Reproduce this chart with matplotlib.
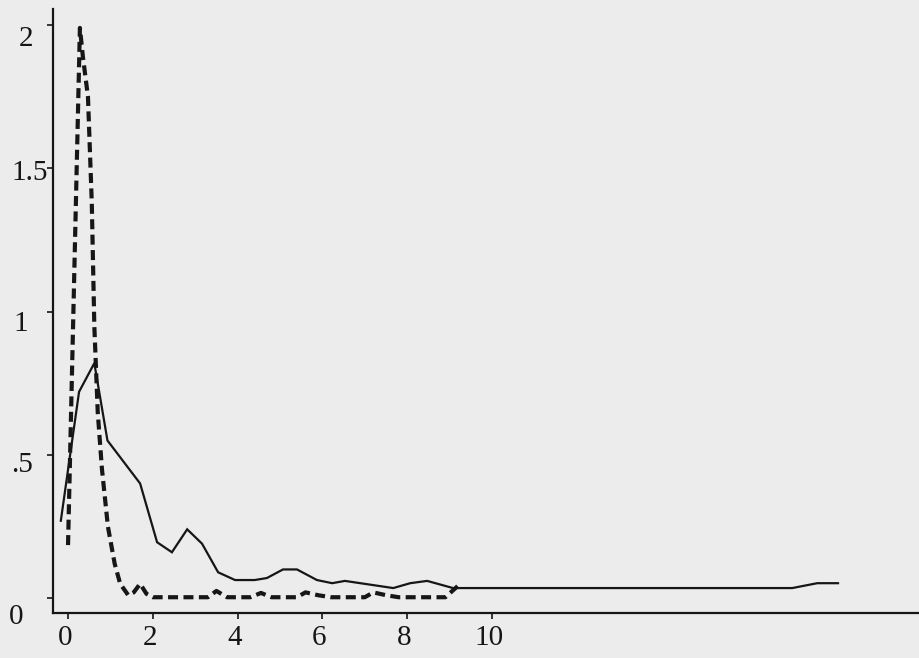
import matplotlib
matplotlib.use("Agg")
import matplotlib.pyplot as plt
from matplotlib.transforms import ScaledTranslation

# Density curves for the two groups
solid_x = [-0.17, 0.26, 0.62, 0.93, 1.70, 2.10, 2.45, 2.81, 3.16, 3.54, 3.94,
           4.40, 4.69, 5.07, 5.40, 5.87, 6.23, 6.53, 7.67, 8.07, 8.47, 9.08,
           17.08, 17.67, 18.16]
solid_y = [0.27, 0.72, 0.82, 0.55, 0.40, 0.195, 0.16, 0.24, 0.19, 0.09, 0.063,
           0.063, 0.07, 0.10, 0.10, 0.063, 0.052, 0.06, 0.035, 0.052, 0.06, 0.035,
           0.035, 0.052, 0.052]

dashed_x = [0.0, 0.28, 0.35, 0.47, 0.56, 0.62, 0.70, 0.80, 0.94, 1.10, 1.23,
            1.42, 1.55, 1.70, 1.85, 2.0, 3.3, 3.5, 3.75, 4.3, 4.55, 4.8, 5.4,
            5.6, 5.9, 6.2, 7.0, 7.2, 7.5, 7.8, 8.9, 9.25]
dashed_y = [0.185, 1.99, 1.89, 1.75, 1.38, 0.95, 0.65, 0.45, 0.25, 0.12, 0.05,
            0.01, 0.02, 0.05, 0.015, 0.003, 0.003, 0.025, 0.003, 0.003, 0.018,
            0.003, 0.003, 0.02, 0.01, 0.003, 0.003, 0.02, 0.01, 0.003, 0.003, 0.05]

x_ticks = [0, 2, 4, 6, 8, 10]
x_tick_labels = ["0", "2", "4", "6", "8", "10"]
y_ticks = [0, 0.5, 1, 1.5, 2]
y_tick_labels = ["0", ".5", "1", "1.5", "2"]

bg = "#ececec"
ink = "#161616"
dpi = 100

fig = plt.figure(figsize=(9.19, 6.58), dpi=dpi, facecolor=bg)
ax = fig.add_axes([0.0577, 0.0684, 0.9423, 0.9179], facecolor=bg)

ax.plot(solid_x, solid_y, color=ink, lw=1.6, solid_joinstyle="miter")
ax.plot(dashed_x, dashed_y, color=ink, lw=3.0, linestyle=(0, (2.4, 1.3)),
        dash_capstyle="butt", dash_joinstyle="round")

ax.set_xlim(-0.354, 20.07)
ax.set_ylim(-0.052, 2.056)

for side in ("top", "right"):
    ax.spines[side].set_visible(False)
for side in ("left", "bottom"):
    ax.spines[side].set_linewidth(1.6)
    ax.spines[side].set_color(ink)

ax.set_xticks(x_ticks)
ax.set_xticklabels(x_tick_labels)
ax.set_yticks(y_ticks)
ax.set_yticklabels(y_tick_labels)

ax.tick_params(axis="both", direction="out", length=4, width=1.2, color=ink,
               labelcolor=ink, labelsize=21)
ax.tick_params(axis="x", pad=5)
ax.tick_params(axis="y", pad=10)

for lab in ax.get_xticklabels() + ax.get_yticklabels():
    lab.set_fontfamily("Liberation Serif")

# Nudge the tick labels slightly (in pixels: dx, dy)
y_label_nudge = {"0": (-10, -16), ".5": (-1, -7), "1": (-6, -9),
                 "1.5": (14, -2), "2": (0, -11)}
for lab in ax.get_yticklabels():
    dx, dy = y_label_nudge.get(lab.get_text(), (0, 0))
    lab.set_transform(lab.get_transform() +
                      ScaledTranslation(dx / dpi, dy / dpi, fig.dpi_scale_trans))
for lab in ax.get_xticklabels():
    lab.set_transform(lab.get_transform() +
                      ScaledTranslation(-3 / dpi, 0, fig.dpi_scale_trans))

fig.savefig("out.png", dpi=dpi, facecolor=bg)
